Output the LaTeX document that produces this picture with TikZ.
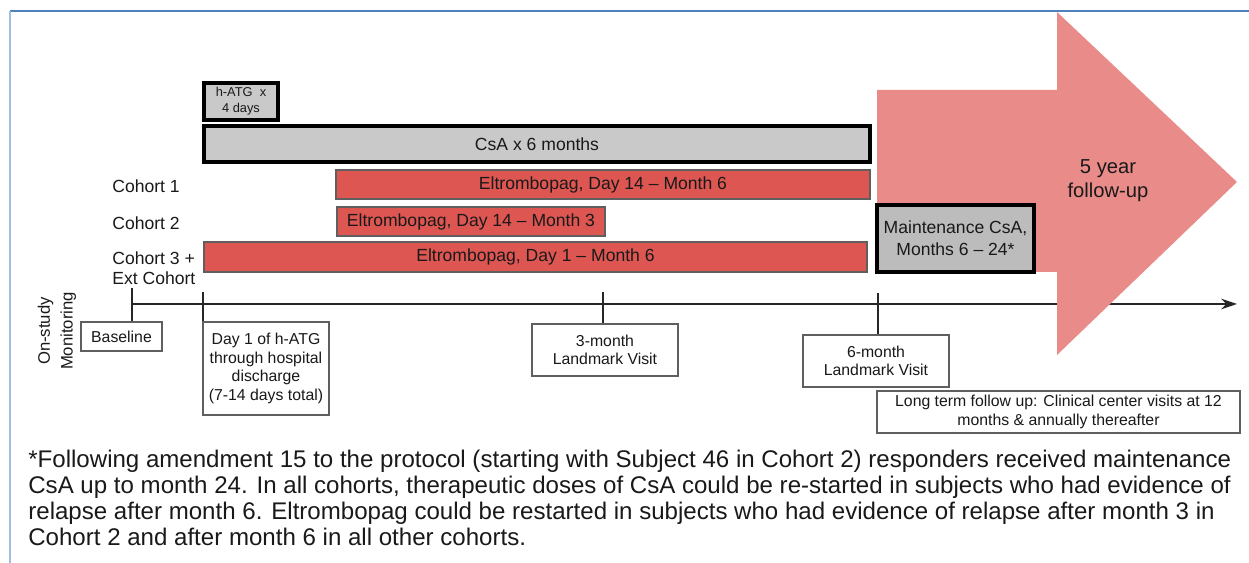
\documentclass[tikz,border=0pt]{standalone}
\usepackage{fontspec}
\setmainfont{Liberation Sans}
\usetikzlibrary{arrows.meta}
\definecolor{barred}{RGB}{222,86,82}
\definecolor{bargray}{RGB}{201,201,201}
\definecolor{maingray}{RGB}{188,188,188}
\definecolor{arrowpink}{RGB}{232,139,137}
\definecolor{frameblue}{RGB}{79,129,189}
\definecolor{frameside}{RGB}{160,190,228}
\definecolor{edgegray}{RGB}{95,95,95}
\tikzset{every node/.style={inner sep=0pt, text=black!90, font=\fontsize{10}{11.5}\selectfont},
  pxbox/.style 2 args={minimum width=#1*0.02cm, minimum height=#2*0.02cm},
  drugbox/.style={draw=black, line width=1.8pt, fill=bargray, align=center},
  redbar/.style={draw=edgegray, line width=1.5pt, fill=barred},
  visitbox/.style={draw=edgegray, line width=0.7pt, fill=white, align=center, font=\fontsize{9}{10.5}\selectfont},
  tick/.style={black!85, line width=0.8pt}}

\begin{document}
\begin{tikzpicture}[x=0.02cm, y=-0.02cm]
   \useasboundingbox (0,0) rectangle (1249,563);
   \draw[frameblue, line width=1pt] (10,11) -- (1249,11);
   \draw[frameside, line width=1.2pt] (10,11) -- (10,563);

   % time line and ticks
   \coordinate (ax0) at (132,304);
   \coordinate (ax1) at (1237,304);
   \coordinate (k0) at (132,288);
   \coordinate (k1) at (203,292);
   \coordinate (k3) at (603,292);
   \coordinate (k6) at (878,293);
   \draw[tick, -{Stealth[length=9pt, width=6pt]}] (ax0) -- (ax1);

   % follow-up arrow
   \fill[arrowpink] (877,90) -- (1057,90) -- (1057,12) -- (1237,182) -- (1057,355) -- (1057,272) -- (877,272) -- cycle;
   \node[font=\fontsize{11.5}{13.5}\selectfont, align=center] (fu) at (1108,181) {5 year\\follow-up};

   % treatment bars
   \node[drugbox, pxbox={74}{37}, font=\fontsize{7.3}{9}\selectfont] (atg) at (241,101.5) {h-ATG\ \ x\\4 days};
   \node[drugbox, pxbox={666}{36}] (csa) at (537,144) {CsA x 6 months};
   \node[redbar, pxbox={534}{29}] (e1) at (603,184.5) {Eltrombopag, Day 14 -- Month 6};
   \node[redbar, pxbox={268}{29}] (e2) at (471,221.5) {Eltrombopag, Day 14 -- Month 3};
   \node[redbar, pxbox={663}{30}] (e3) at (535.5,257) {Eltrombopag, Day 1 -- Month 6};
   \node[drugbox, pxbox={157}{67}, fill=maingray, font=\fontsize{10}{12.5}\selectfont] (mcsa) at (955.5,238.5) {Maintenance CsA,\\Months 6 -- 24*};

   \node[anchor=west] (c1) at (112,186) {Cohort 1};
   \node[anchor=west] (c2) at (112,223) {Cohort 2};
   \node[anchor=west, align=left] (c3) at (112,268) {Cohort 3 +\\Ext Cohort};
   \node[rotate=90, align=center, font=\fontsize{9.5}{13}\selectfont] (mon) at (57,331) {On-study\\Monitoring};

   % visits
   \node[visitbox, pxbox={81}{29}] (base) at (121.5,336.5) {Baseline};
   \node[visitbox, pxbox={126}{93}] (day1) at (266,368.5) {Day 1 of h-ATG\\through hospital\\discharge\\(7-14 days total)};
   \node[visitbox, pxbox={146}{52}] (m3) at (605,350) {3-month\\Landmark Visit};
   \node[visitbox, pxbox={146}{52}] (m6) at (876,361) {6-month\\Landmark Visit};
   \node[visitbox, pxbox={363}{42}] (lt) at (1058.5,412) {Long term follow up: Clinical center visits at 12\\months \& annually thereafter};
   \draw[tick] (k0) -- (k0 |- base.north);
   \draw[tick] (k1) -- (k1 |- day1.north);
   \draw[tick] (k3) -- (k3 |- m3.north);
   \draw[tick] (k6) -- (k6 |- m6.north);

   \node[anchor=north west, align=left, font=\fontsize{13.7}{14.8}\selectfont] (note) at (28,450) {*Following amendment 15 to the protocol (starting with Subject 46 in Cohort 2) responders received maintenance\\CsA up to month 24. In all cohorts, therapeutic doses of CsA could be re-started in subjects who had evidence of\\relapse after month 6. Eltrombopag could be restarted in subjects who had evidence of relapse after month 3 in\\Cohort 2 and after month 6 in all other cohorts.};
\end{tikzpicture}
\end{document}
